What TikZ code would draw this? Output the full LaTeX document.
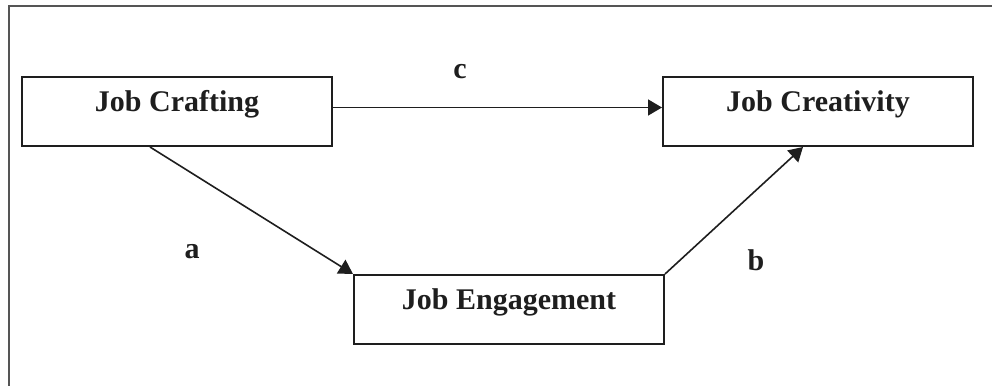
\documentclass[tikz,border=0pt]{standalone}
\usepackage{fontspec}
\setmainfont{Liberation Serif}
\usetikzlibrary{arrows.meta}
\definecolor{ink}{HTML}{1E1E1E}
\definecolor{frame}{HTML}{555555}

\begin{document}
\begin{tikzpicture}[
  x=0.5pt,y=-0.5pt,
  varbox/.style={draw=ink,line width=1pt,inner sep=0pt,minimum width=155pt,minimum height=34.5pt,
    text height=8pt,text depth=8pt,font=\bfseries\fontsize{15}{18}\selectfont,text=ink},
  path/.style={draw=ink,line width=0.8pt,-{Triangle[length=7pt,width=8pt]}},
  plabel/.style={anchor=base,inner sep=0pt,font=\bfseries\fontsize{15}{18}\selectfont,text=ink}
]
\useasboundingbox (0,0) rectangle (992,386);
% outer frame
\draw[frame,line width=1pt] (9,386) -- (9,6) -- (992,6);

% variables
\node[varbox] (craft) at (177,111.5) {Job Crafting};
\node[varbox] (creat) at (818,111.5) {Job Creativity};
\node[varbox] (engage) at (509,309.5) {Job Engagement};

% paths
\draw[path] ([yshift=2pt]craft.east) -- ([yshift=2pt]creat.west);
\draw[path] ([xshift=-13.5pt]craft.south) -- (engage.north west);
\draw[path] (engage.north east) -- ([xshift=-7.5pt]creat.south);

% path labels
\node[plabel] (lblc) at (460,78) {c};
\node[plabel] (lbla) at (192,258) {a};
\node[plabel] (lblb) at (756,270) {b};
\end{tikzpicture}
\end{document}
